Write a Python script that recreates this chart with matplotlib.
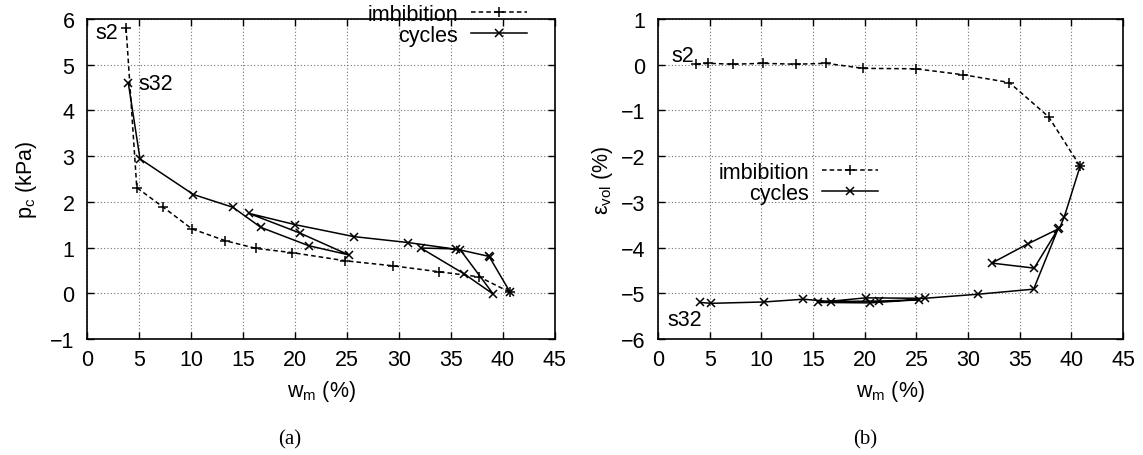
import matplotlib.pyplot as plt

plt.rcParams['font.family'] = ['Liberation Sans', 'DejaVu Sans']
plt.rcParams['font.size'] = 15.5
plt.rcParams['mathtext.fontset'] = 'custom'
plt.rcParams['mathtext.rm'] = 'Liberation Sans'
plt.rcParams['mathtext.it'] = 'Liberation Sans:italic'

# (a) suction p_c against water content w_m
wm_imb_a = [3.76, 4.79, 7.35, 10.08, 13.3, 16.28, 19.72, 24.86, 29.45, 33.85, 37.7, 40.7]
pc_imb = [5.80, 2.31, 1.88, 1.41, 1.15, 0.98, 0.89, 0.71, 0.60, 0.47, 0.36, 0.02]
wm_cyc_a = [40.7, 38.66, 38.8, 35.45, 32.1, 36.3, 39.08, 35.9, 30.86, 25.66,
            20.04, 15.54, 20.45, 25.17, 21.33, 16.73, 14.04, 10.24, 5.1, 3.98]
pc_cyc = [0.02, 0.81, 0.80, 0.97, 0.99, 0.42, -0.02, 0.95, 1.11, 1.24,
          1.50, 1.75, 1.32, 0.84, 1.04, 1.44, 1.88, 2.16, 2.94, 4.59]

# (b) volumetric strain against water content
wm_imb_b = [3.68, 4.87, 7.3, 10.14, 13.36, 16.27, 19.86, 24.96, 29.54, 34.0, 37.8, 40.85]
ev_imb = [0.01, 0.03, 0.01, 0.03, 0.01, 0.03, -0.08, -0.09, -0.22, -0.39, -1.14, -2.22]
wm_cyc_b = [40.85, 39.3, 38.85, 35.78, 32.3, 36.4, 38.7, 36.35, 31.0, 25.8,
            20.1, 15.5, 20.5, 25.3, 21.4, 16.7, 14.07, 10.26, 5.13, 4.07]
ev_cyc = [-2.22, -3.34, -3.58, -3.92, -4.34, -4.45, -3.6, -4.91, -5.02, -5.11,
          -5.10, -5.20, -5.21, -5.14, -5.17, -5.18, -5.13, -5.19, -5.22, -5.20]

xticks = list(range(0, 46, 5))

fig = plt.figure(figsize=(11.43, 4.56), dpi=100)
ax1 = fig.add_axes([0.0761, 0.2544, 0.4094, 0.7018])
ax2 = fig.add_axes([0.5757, 0.2544, 0.4068, 0.7018])


def style(ax, ylim):
    ax.set_xlim(0, 45)
    ax.set_ylim(*ylim)
    ax.set_xticks(xticks)
    ax.set_yticks(range(ylim[0], ylim[1] + 1))
    ax.grid(True, color='0.45', linestyle=(0, (1, 2)), linewidth=0.8)
    ax.tick_params(direction='in', top=True, right=True, length=5, width=1)
    ax.tick_params(axis='x', pad=7)
    ax.tick_params(axis='y', pad=9)
    for s in ax.spines.values():
        s.set_linewidth(1.2)
    ax.set_xlabel(r'w$_\mathrm{m}$ (%)', labelpad=6)


def gp_legend(ax, anchor):
    # text first, sample after it, entries right aligned (gnuplot key)
    return ax.legend(loc='upper right', bbox_to_anchor=anchor, markerfirst=False,
                     frameon=False, handlelength=2.6, handletextpad=0.6,
                     labelspacing=0.0, borderaxespad=0, borderpad=0)


# panel (a)
ax1.plot(wm_imb_a, pc_imb, color='black', linestyle=(0, (3, 2)), linewidth=1.1,
         marker='+', markersize=7, markeredgewidth=1.1, label='imbibition')
ax1.plot(wm_cyc_a, pc_cyc, color='black', linestyle='-', linewidth=1.1,
         marker='x', markersize=6, markeredgewidth=1.1, label='cycles')
style(ax1, (-1, 6))
ax1.set_ylabel(r'p$_\mathrm{c}$ (kPa)', labelpad=8)
ax1.annotate('s2', xy=(wm_imb_a[0], pc_imb[0]), xytext=(-6, -3),
             textcoords='offset points', ha='right', va='center')
ax1.annotate('s32', xy=(wm_cyc_a[-1], pc_cyc[-1]), xytext=(7, 0),
             textcoords='offset points', ha='left', va='center')
gp_legend(ax1, (0.94, 1.048))

# panel (b)
ax2.plot(wm_imb_b, ev_imb, color='black', linestyle=(0, (3, 2)), linewidth=1.1,
         marker='+', markersize=7, markeredgewidth=1.1, label='imbibition')
ax2.plot(wm_cyc_b, ev_cyc, color='black', linestyle='-', linewidth=1.1,
         marker='x', markersize=6, markeredgewidth=1.1, label='cycles')
style(ax2, (-6, 1))
ax2.set_ylabel(r'$\mathregular{ε_{vol}}$ (%)', labelpad=4)
ax2.annotate('s2', xy=(wm_imb_b[0], ev_imb[0]), xytext=(-1.5, 6),
             textcoords='offset points', ha='right', va='center')
ax2.annotate('s32', xy=(wm_cyc_b[-1], ev_cyc[-1]), xytext=(-11, -12),
             textcoords='offset points', ha='center', va='center')
gp_legend(ax2, (0.473, 0.553))

fig.text(290 / 1143, 1 - 440 / 456, '(a)', ha='center', va='center',
         family='Liberation Serif', size=15)
fig.text(865 / 1143, 1 - 440 / 456, '(b)', ha='center', va='center',
         family='Liberation Serif', size=15)

fig.savefig('out.png', dpi=100)
